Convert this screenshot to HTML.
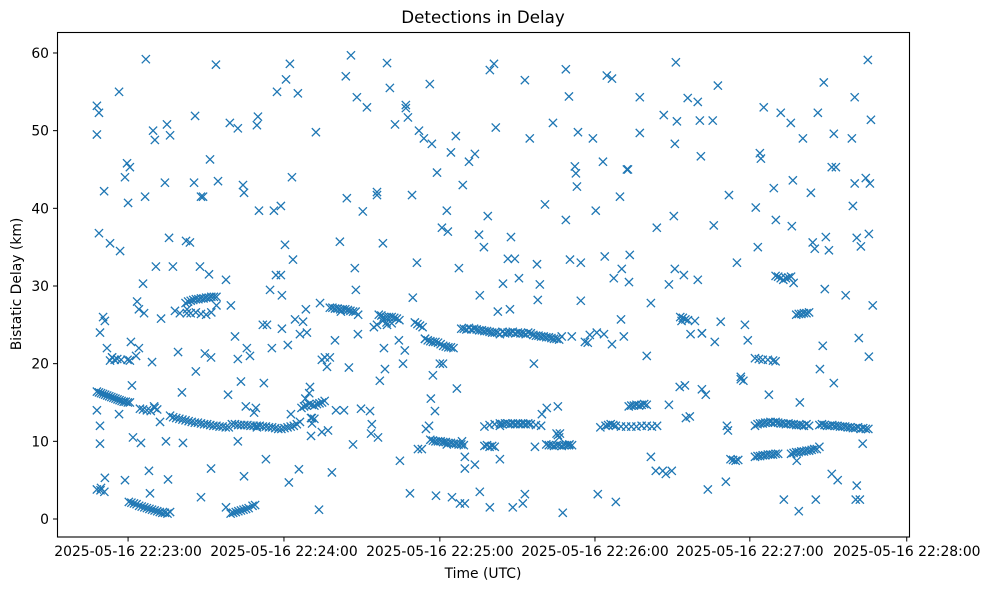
<!DOCTYPE html>
<html><head><meta charset="utf-8">
<style>
html,body{margin:0;padding:0;background:#fff;}
svg{display:block;font-family:"DejaVu Sans","Liberation Sans",sans-serif;}
</style></head>
<body>
<svg id="chart" width="989" height="590" viewBox="0 0 989 590" xmlns="http://www.w3.org/2000/svg">
<rect x="0" y="0" width="989" height="590" fill="#fff"/>
<text x="483" y="23" font-size="16.7" text-anchor="middle">Detections in Delay</text>
<g id="marks"></g>
<rect x="57.5" y="32.5" width="852" height="504.5" fill="none" stroke="#000" stroke-width="1.1"/>
<g id="xaxis"></g>
<g id="yaxis"></g>
<text x="483" y="578" font-size="13.9" text-anchor="middle">Time (UTC)</text>
<text x="0" y="0" font-size="13.9" text-anchor="middle" transform="translate(21,284) rotate(-90)">Bistatic Delay (km)</text>
</svg>
<script>
// seconds after 22:22:00
const scatterT = [45.6,45.6,46.4,46.4,48.4,46.8,48,48.7,49.5,50.7,51.5,54.2,54.6,56.5,57.3,58.4,57.7,58.8,59.2,59.6,61.2,61.9,63.5,64.3,64.6,63.9,65.8,66.2,67.4,68.1,68.5,70.5,72,72.8,73.6,74,75.1,75.9,77.1,78.6,79,80.2,81.7,83.3,83.7,84,85.6,86,86.8,87.5,89.1,89.5,89.9,89.9,91.8,92.6,95.7,96.5,97.2,99.2,100.3,100.3,101.5,102.3,102.7,103.8,106.6,107.3,107.7,108.1,108.5,110,111.2,111.6,112.8,114.3,115.5,115.1,117,117,117.4,118.6,119,119.7,120.5,120.1,121.3,121.7,122.5,123.6,124,125.6,127.1,128.3,128.7,128.7,129.1,130.6,131.8,132.2,132.9,134.1,135.3,136,136.8,138,139.9,142.2,142.6,143.4,144.2,145,145.7,146.1,146.5,148.8,150.4,151.6,152.3,153.1,154.3,154.3,154.7,155.4,156.6,157.4,158.2,159.3,161.3,163.2,164.4,165.5,165.5,166.3,167.1,167.9,169.8,170.6,171.7,172.5,173.3,174.8,175.6,176.8,177.2,177.6,179.5,181.4,181.8,183,184.9,185.3,186.1,186.5,187.6,188.4,190,192.3,193.9,194.2,195.8,197.3,198.1,199.7,200.4,201.2,202,203.2,205.1,205.9,206.3,207.8,209.4,210.9,211.7,213.6,215.2,216.4,216.7,217.5,219.5,222.6,224.5,226.4,227.6,228.8,227.6,229.2,231.1,231.5,231.9,232.3,233.4,233.4,236.1,238.1,239.2,240,242,243.5,242.7,245.5,246.2,247,248.6,249.3,251.3,251.7,252.1,252.4,256.3,256.3,259,260.6,260.6,262.9,265.6,266.4,267.6,267.6,269.5,270.3,270.7,269.9,269.9,273.4,274.9,277.7,278.8,279.6,278.8,280,280.4,281.9,282.7,284.6,285,285.4,286.6,287.7,289.7,290.9,294,295.5,297.1,298.2,301.3,302.1,302.9,304.4,303.3,306.4,308.3,309.1,311,312.2,314.9,315.3,315.7,317.2,318.4,318,319.6,322.7,323.4,324.2,325.4,326.2,327.3,328.1,328.5,327.7,329.7,330.8,331.6,332.4,331.6,336.2,338.6,339,339.7,339.7,340.5,341.3,342.1,342.8,344,344.8,345.6,345.2,346,346.7,345.2,340.5,340.1,341.7,330.8,333.1,324.6,290.1,290.5,280.4,280.4,274.2,275.7,271.8,273.8,268.7,265.2,262.5,249,250.1,245.5,242.4,239.6,236.9,235,229.9,228.8,225.3,224.5,220.2,218.3,215.6,211.7,207,202,198.1,194.2,192.3,188.4,188.4,187.3,183.4,181.4,179.9,178.7,176,175.2,174.5,172.9,170.2,168.2,165.1,162.8,158.2,157,154.3,152,148.1,146.9,141.5,140.3,138.4,134.9,132.9,126.7,124.4,120.9,117.4,113.5,110.4,107.7,105,103.4,102.7,100.3,97.6,95.7,86,80.6,77.8,73.2,72.4,70.1,67.8,67,62.7,61.9,60.8,56.5,54.2,48.7,47.2,46.8,45.6,46.8,48];
const scatterD = [53.2,49.5,52.3,36.8,42.2,24,26,25.5,22,35.5,20.8,55,34.5,44,45.8,45.3,40.7,22.8,17.2,10.5,28,27,30.3,41.5,59.2,26.5,6.2,3.3,50,48.8,32.5,25.8,43.3,50.8,36.2,49.4,32.5,26.8,21.5,16.3,9.8,35.8,35.6,43.3,51.9,19,32.5,41.5,41.5,21.3,31.5,46.3,20.8,6.5,58.5,43.5,30.8,16,51,23.5,20.6,50.3,17.7,43,42,22,13.7,14.3,50.7,51.8,39.7,25,7.7,25,29.5,39.7,55,31.4,31.4,40.3,24.5,35.3,56.6,22.4,58.6,4.7,44,33.4,25.7,54.8,6.4,25.4,24,17,13,10.7,12.3,49.8,1.2,27.8,11.2,20.8,11.4,20.8,6,23,35.7,57,41.3,19.5,59.7,9.6,32.3,29.5,54.3,39.6,53,13.9,12.2,24.7,41.7,42.1,10.5,17.8,35.5,19.3,58.7,55.5,50.8,7.5,20,52.9,53.3,51.7,3.3,41.7,33,50,9,49,11.6,56,48.3,13.9,3,44.6,37.5,39.7,37,47.2,49.3,16.8,32.3,2,43,8,46,47,36.6,28.8,35,39,57.8,58.6,50.4,26.7,7.7,30.3,33.5,27,36.3,33.5,31,2,56.5,49,20,32.8,28.2,30.2,40.5,51,14.5,0.8,57.9,54.4,38.5,33.4,45.4,44.5,42.8,49.8,28.1,33,22.7,49,39.7,3.2,46,57.1,33.8,56.7,31,2.2,41.5,32.2,45,45,30.5,34,54.3,49.7,21,27.8,8,37.5,52,5.8,30.2,14.7,39,58.8,51.2,48.3,32.2,31.4,54.2,25.5,53.7,51.3,30.8,46.7,16.7,16,3.8,51.3,37.8,22.8,55.8,25.4,4.8,41.7,33,18,25,23,40.1,35,47.1,53,46.4,16,42.6,38.5,52.3,2.5,51,37.7,43.6,7.5,15,1,49,42,35.6,34.8,52.3,19.3,22.3,29.6,36.3,56.2,34.6,45.3,17.5,45.3,49.6,28.8,49,40.3,43.2,54.3,36.2,23.3,35.1,9.7,43.9,59.1,43.2,36.7,51.4,27.5,20.9,4.3,2.5,2.5,5.8,5,2.5,12,11.4,23.9,23.9,13,13.2,17,17.2,6.2,6.2,6.2,25.7,23.5,22.5,23.8,24,23.7,22.8,23.5,9.5,11,10.8,14.3,13.5,9.3,3.2,1.5,12,1.5,3.5,7,6.5,2,10,2.8,9.6,20,20,18.5,15.5,12,23.2,9,28.5,21.7,23,25,22,25,11,14.2,23.8,14,26.7,14,19.6,20.5,27,23.8,13.5,28.8,22,17.5,11.8,21,14.5,5.5,10,27.5,1.5,2.8,27,26.5,5.1,10,12.5,14.5,20.2,9.8,22,21,5,13.5,5.3,4,9.7,14,12];
const trackT = [45.6,46.4,47.2,48,48.8,49.6,50.4,51.2,52,52.8,53.6,54.4,55.2,56,56.8,57.6,58.4,
45.6,47,48.5,58,59,60,61,62,63,64,65,66,67,68,69,70,71,72,73,74,
97.5,98.5,99.5,100.5,101.5,102.5,103.5,104.5,106,107,
50.7,51.5,52.5,53.5,55,57.5,58.4,
62.3,63.5,65,66.5,68,69,74,75.2,76.4,77.6,78.8,80,81.2,82.4,83.6,84.8,86,87.2,88.4,89.6,90.8,92,93.2,94.4,95.6,96.8,98,99.2,100.4,101.6,102.8,104,105.2,106.4,107.6,108.8,110,111.2,112.4,113.6,114.8,116,117.2,118.4,119.6,120.8,122,123.2,124.4,
125,126,127,128,129,130,131,132,133,134,126.5,128,129,130,
80,81,82,83,84,85,86,87,88,89,90,91,92,80.5,82,84,86,88,90,92,
136,137,138,139,140,141,142,143,144,145,146,147,155,156,157,158,159,160,161,162,163,156.5,158,160,169,170,171,172,173,174,175,176,177,178,179,180,181,182,183,184,
187,188,189,190,191,192,193,194,195,196,197,198,199,200,201,202,203,204,205,206,207,208,209,210,211,212,213,214,215,216,217,218,219,220,221,222,223,224,225,226,
175,176,177,178,179,180,181,182,183,184,185,186,187,188,196,197,198,199,200,
196,198,200,202,203,204,205,206,207,208,209,210,211,212,213,214,216,218,
220,221,222,223,224,225,226,227,228,229,230,224,225,
241,243,244,245,246,247,249,251,253,255,257,259,261,263,252,253,254,255,256,257,258,259,
272,273,274,275,272.5,276,
301,302,303,304,305,306,307,308,309,310,311,312,313,314,315,316,317,318,319,320,321,322,
301,302,303,304,305,306,307,308,309,310,
315,316,317,318,319,320,321,322,323,324,325,326,
326,327,328,329,330,331,332,333,334,335,336,337,338,339,340,341,342,343,344,345,
301,302.5,304,306,308,309,317,318,319,320,321,322,309,310,311,312,313,314,315,316,
291.5,292.5,293.5,294.5,295.5,296.5];
const trackD = [16.4,16.3,16.2,16.1,16,15.9,15.8,15.7,15.6,15.5,15.4,15.3,15.2,15.1,15.1,15,15,
3.8,3.7,3.5,2.2,2.1,2,1.9,1.7,1.6,1.5,1.4,1.3,1.2,1.1,1,0.9,0.8,0.8,0.7,0.9,
0.7,0.8,0.9,1.0,1.1,1.2,1.3,1.4,1.7,1.8,
20.4,20.8,20.5,20.6,20.5,20.5,20.4,
14.2,14.1,14,13.9,14.3,14.1,13.3,13.1,13,12.9,12.8,12.7,12.6,12.5,12.4,12.4,12.3,12.2,12.2,12.1,12,12,11.9,11.9,11.8,11.8,12.2,12.2,12.1,12.1,12.1,12.1,12,12,12,12,11.9,11.9,11.8,11.8,11.7,11.6,11.6,11.7,11.8,11.9,12,12.2,12.5,
14.3,14.5,14.6,14.8,14.7,14.6,14.8,14.9,15,15.2,15.5,16.2,13,12.9,
27.8,28,28.1,28.2,28.3,28.3,28.4,28.4,28.5,28.5,28.6,28.6,28.6,26.5,26.5,26.6,26.4,26.3,26.6,27.5,
27.2,27.2,27.1,27.1,27,27,27,26.9,26.8,26.7,26.7,26.3,26.3,26.2,26,26,26,26,25.9,25.8,25.6,25.5,25.3,25.2,25.3,25.1,24.9,24.7,23.2,23,22.9,22.8,22.8,22.7,22.5,22.3,22.2,22.1,22.1,22,
24.5,24.5,24.4,24.6,24.4,24.5,24.4,24.3,24.3,24.2,24.2,24.1,24,24,24,23.8,24.1,23.9,24,24,24.1,23.9,24,23.9,23.9,23.8,24,23.9,23.7,23.6,23.6,23.5,23.5,23.4,23.4,23.3,23.2,23.2,23.1,23.5,
10.2,10.1,10,10,10,9.9,9.9,9.8,9.8,9.7,9.7,9.6,9.6,9.5,9.4,9.5,9.3,9.4,9.3,
11.9,12.1,12.2,12.3,12.2,12.3,12.3,12.2,12.3,12.2,12.3,12.2,12.3,12.2,12.3,12.2,12.1,12,
9.6,9.5,9.5,9.4,9.5,9.5,9.4,9.5,9.5,9.6,9.5,11,10.5,
11.8,12,12.1,12.2,12.1,12,11.9,11.9,11.9,11.9,12,12,11.9,12,14.5,14.6,14.6,14.7,14.6,14.7,14.8,14.7,
26,25.9,25.7,25.6,25.5,23.8,
12,12.2,12.3,12.3,12.4,12.4,12.5,12.4,12.5,12.4,12.3,12.3,12.2,12.3,12.2,12.2,12.1,12.1,12.1,12,12.2,12,
8,8.1,8.1,8.2,8.2,8.3,8.3,8.3,8.4,8.4,
8.4,8.5,8.6,8.6,8.7,8.7,8.8,8.8,8.9,9,9,9.3,
12.1,12.2,12.1,12,12,12.1,12,12,11.9,11.9,11.9,11.8,11.8,11.7,11.7,11.8,11.6,11.7,11.6,11.6,
20.7,20.6,20.5,20.5,20.4,20.3,26.3,26.4,26.4,26.5,26.5,26.6,31.3,31.2,31,30.8,31,31.1,31.2,30.4,
7.7,7.6,7.5,7.6,18.3,17.8];
// tick positions (seconds after 22:22:00) and labels
const xTickValues = [57.7,118.2,178.7,238.9,299.0,359.9];
const xTickLabels = ["2025-05-16 22:23:00","2025-05-16 22:24:00","2025-05-16 22:25:00","2025-05-16 22:26:00","2025-05-16 22:27:00","2025-05-16 22:28:00"];
const yTickValues = [0,10,20,30,40,50,60];
const yTickLabels = ["0","10","20","30","40","50","60"];

const NS = "http://www.w3.org/2000/svg";
function xScale(t){ return 134 + (t - 60) * 154.6 / 60; }
function yScale(d){ return 519 - d * 7.767; }

const marks = document.getElementById('marks');
function drawPoint(t, d, name){
  const x = xScale(t), y = yScale(d), s = 4.1;
  const p = document.createElementNS(NS, 'path');
  p.setAttribute('d', `M${x-s},${y-s}L${x+s},${y+s}M${x-s},${y+s}L${x+s},${y-s}`);
  p.setAttribute('stroke', '#1f77b4');
  p.setAttribute('stroke-width', '1.3');
  p.setAttribute('fill', 'none');
  
  
  marks.appendChild(p);
}
for (let i = 0; i < scatterT.length; i++) drawPoint(scatterT[i], scatterD[i], 'detection-point');
for (let i = 0; i < trackT.length; i++) drawPoint(trackT[i], trackD[i], 'track-detection-point');

const xa = document.getElementById('xaxis');
xTickValues.forEach((v, i) => {
  const x = xScale(v);
  const l = document.createElementNS(NS, 'line');
  l.setAttribute('x1', x); l.setAttribute('x2', x);
  l.setAttribute('y1', 537); l.setAttribute('y2', 541.5);
  l.setAttribute('stroke', '#000'); l.setAttribute('stroke-width', '1');
  
  
  xa.appendChild(l);
  const t = document.createElementNS(NS, 'text');
  t.setAttribute('x', x); t.setAttribute('y', 556);
  t.setAttribute('font-size', '13.9'); t.setAttribute('text-anchor', 'middle');
  t.textContent = xTickLabels[i];
  
  
  xa.appendChild(t);
});
const ya = document.getElementById('yaxis');
yTickValues.forEach((v, i) => {
  const y = yScale(v);
  const l = document.createElementNS(NS, 'line');
  l.setAttribute('x1', 53); l.setAttribute('x2', 57.5);
  l.setAttribute('y1', y); l.setAttribute('y2', y);
  l.setAttribute('stroke', '#000'); l.setAttribute('stroke-width', '1');
  
  
  ya.appendChild(l);
  const t = document.createElementNS(NS, 'text');
  t.setAttribute('x', 49); t.setAttribute('y', y + 5);
  t.setAttribute('font-size', '13.9'); t.setAttribute('text-anchor', 'end');
  t.textContent = yTickLabels[i];
  
  
  ya.appendChild(t);
});
</script>
</body></html>
